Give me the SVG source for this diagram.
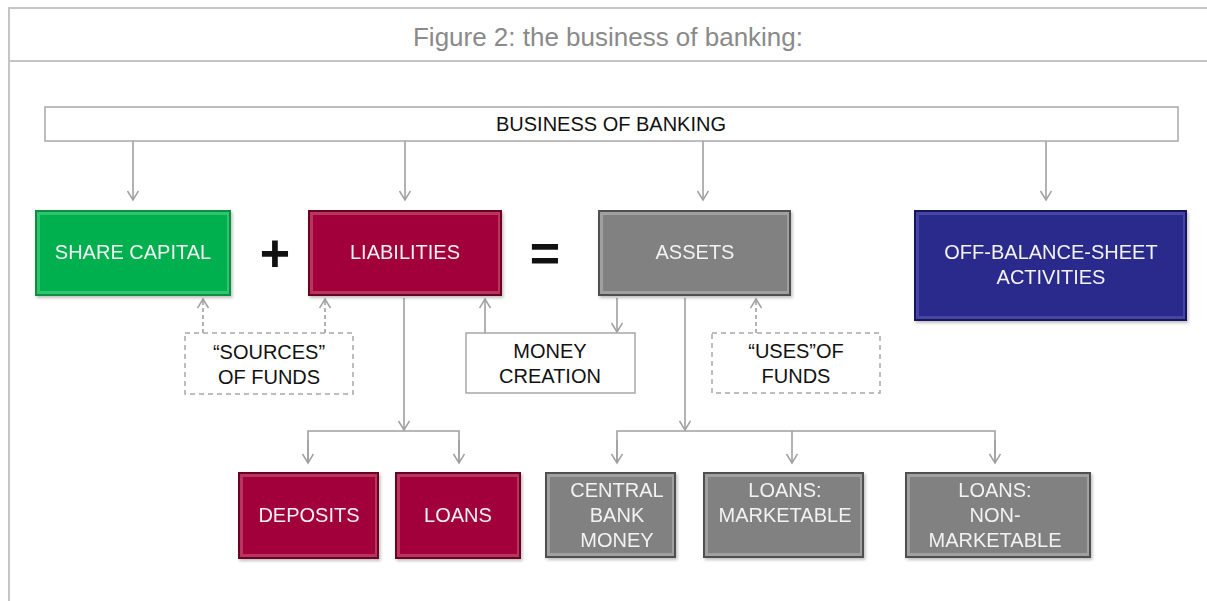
<svg xmlns="http://www.w3.org/2000/svg" width="1207" height="601" viewBox="0 0 1207 601">
  <defs>
    <style>
      text { font-family: "Liberation Sans", Arial, sans-serif; text-anchor: middle; }
      .frame { fill: none; stroke: #c4c4c4; stroke-width: 2; }
      .title { font-size: 26px; fill: #8a8a8a; }
      .lbl { font-size: 20px; fill: #111; }
      .lbl-in { font-size: 20px; fill: #f2f2f2; }
      .op { font-size: 52px; font-weight: bold; fill: #111; }
      .plain { fill: #fff; stroke: #a8a8a8; stroke-width: 1.5; }
      .dash { fill: #fff; stroke: #a8a8a8; stroke-width: 1.5; stroke-dasharray: 5 4; }
      .conn { fill: none; stroke: #a0a0a0; stroke-width: 1.6; }
      .conn-d { fill: none; stroke: #a0a0a0; stroke-width: 1.6; stroke-dasharray: 4 3; }
      .green-o { fill: #0a8f40; } .green-i { fill: #00b050; } .green-h { fill: #2fc470; }
      .red-o { fill: #6c0024; } .red-i { fill: #a2003a; } .red-h { fill: #b8345e; }
      .grey-o { fill: #505050; } .grey-i { fill: #818181; } .grey-h { fill: #a0a0a0; }
      .navy-o { fill: #17175a; } .navy-i { fill: #2b2b8c; } .navy-h { fill: #4444a4; }
    </style>
    <marker id="arr" markerUnits="userSpaceOnUse" markerWidth="14" markerHeight="14" refX="10" refY="6" orient="auto">
      <path d="M1,0.5 L10,6 L1,11.5" fill="none" stroke="#a0a0a0" stroke-width="1.5"/>
    </marker>
    <filter id="sh" x="-5%" y="-5%" width="115%" height="120%">
      <feDropShadow dx="1.5" dy="2" stdDeviation="1.5" flood-color="#000" flood-opacity="0.25"/>
    </filter>
  </defs>

  <!-- page frame and heading strip -->
  <path class="frame" d="M1207,8 H9 V601 M9,61 H1207"/>
  <text class="title" x="608" y="46" textLength="390" lengthAdjust="spacingAndGlyphs">Figure 2: the business of banking:</text>

  <!-- connectors -->
  <g id="connectors">
    <line class="conn" x1="133" y1="141" x2="133" y2="200" marker-end="url(#arr)"/>
    <line class="conn" x1="405" y1="141" x2="405" y2="200" marker-end="url(#arr)"/>
    <line class="conn" x1="703" y1="141" x2="703" y2="200" marker-end="url(#arr)"/>
    <line class="conn" x1="1046" y1="141" x2="1046" y2="200" marker-end="url(#arr)"/>

    <line class="conn-d" x1="203" y1="333" x2="203" y2="299" marker-end="url(#arr)"/>
    <line class="conn-d" x1="325" y1="333" x2="325" y2="299" marker-end="url(#arr)"/>
    <line class="conn-d" x1="756" y1="333" x2="756" y2="299" marker-end="url(#arr)"/>

    <line class="conn" x1="485" y1="333" x2="485" y2="299" marker-end="url(#arr)"/>
    <line class="conn" x1="617" y1="298" x2="617" y2="332" marker-end="url(#arr)"/>

    <line class="conn" x1="404" y1="298" x2="404" y2="430" marker-end="url(#arr)"/>
    <path class="conn" d="M308,463 V431 H459 V463"/>
    <line class="conn" x1="308" y1="440" x2="308" y2="463" marker-end="url(#arr)"/>
    <line class="conn" x1="459" y1="440" x2="459" y2="463" marker-end="url(#arr)"/>

    <line class="conn" x1="685" y1="298" x2="685" y2="430" marker-end="url(#arr)"/>
    <path class="conn" d="M617,463 V431 H995 V463"/>
    <line class="conn" x1="792" y1="431" x2="792" y2="463" marker-end="url(#arr)"/>
    <line class="conn" x1="617" y1="440" x2="617" y2="463" marker-end="url(#arr)"/>
    <line class="conn" x1="995" y1="440" x2="995" y2="463" marker-end="url(#arr)"/>
  </g>

  <g id="business-of-banking">
    <rect class="plain" x="45" y="107" width="1133" height="34"/>
    <text class="lbl" x="611" y="131" font-size="19">BUSINESS OF BANKING</text>
  </g>

  <g id="share-capital" filter="url(#sh)">
    <rect class="green-o" x="35" y="210" width="196" height="86"/>
    <rect class="green-h" x="37" y="212" width="192" height="82"/>
    <rect class="green-i" x="40" y="215" width="187" height="76"/>
    <text class="lbl-in" x="133" y="259">SHARE CAPITAL</text>
  </g>

  <text class="op" x="275" y="271">+</text>

  <g id="liabilities" filter="url(#sh)">
    <rect class="red-o" x="308" y="210" width="194" height="86"/>
    <rect class="red-h" x="310" y="212" width="190" height="82"/>
    <rect class="red-i" x="313" y="215" width="185" height="76"/>
    <text class="lbl-in" x="405" y="259">LIABILITIES</text>
  </g>

  <text class="op" x="545" y="271">=</text>

  <g id="assets" filter="url(#sh)">
    <rect class="grey-o" x="598" y="210" width="193" height="86"/>
    <rect class="grey-h" x="600" y="212" width="189" height="82"/>
    <rect class="grey-i" x="603" y="215" width="184" height="76"/>
    <text class="lbl-in" x="695" y="259">ASSETS</text>
  </g>

  <g id="off-balance-sheet" filter="url(#sh)">
    <rect class="navy-o" x="914" y="210" width="273" height="111"/>
    <rect class="navy-h" x="916" y="212" width="269" height="107"/>
    <rect class="navy-i" x="919" y="215" width="264" height="101"/>
    <text class="lbl-in" x="1051" y="259">OFF-BALANCE-SHEET</text>
    <text class="lbl-in" x="1051" y="284">ACTIVITIES</text>
  </g>

  <g id="sources-of-funds">
    <rect class="dash" x="185" y="333" width="168" height="61"/>
    <text class="lbl" x="269" y="359">“SOURCES”</text>
    <text class="lbl" x="269" y="384">OF FUNDS</text>
  </g>

  <g id="money-creation">
    <rect class="plain" x="466" y="333" width="169" height="60"/>
    <text class="lbl" x="550" y="358">MONEY</text>
    <text class="lbl" x="550" y="383">CREATION</text>
  </g>

  <g id="uses-of-funds">
    <rect class="dash" x="712" y="333" width="168" height="60"/>
    <text class="lbl" x="796" y="358">“USES”OF</text>
    <text class="lbl" x="796" y="383">FUNDS</text>
  </g>

  <g id="deposits" filter="url(#sh)">
    <rect class="red-o" x="238" y="472" width="141" height="87"/>
    <rect class="red-h" x="240" y="474" width="137" height="83"/>
    <rect class="red-i" x="243" y="477" width="132" height="77"/>
    <text class="lbl-in" x="309" y="522">DEPOSITS</text>
  </g>

  <g id="loans" filter="url(#sh)">
    <rect class="red-o" x="395" y="472" width="126" height="87"/>
    <rect class="red-h" x="397" y="474" width="122" height="83"/>
    <rect class="red-i" x="400" y="477" width="117" height="77"/>
    <text class="lbl-in" x="458" y="522">LOANS</text>
  </g>

  <g id="central-bank-money" filter="url(#sh)">
    <rect class="grey-o" x="545" y="472" width="131" height="86"/>
    <rect class="grey-h" x="547" y="474" width="127" height="82"/>
    <rect class="grey-i" x="550" y="477" width="122" height="76"/>
    <text class="lbl-in" x="617" y="497">CENTRAL</text>
    <text class="lbl-in" x="617" y="522">BANK</text>
    <text class="lbl-in" x="617" y="547">MONEY</text>
  </g>

  <g id="loans-marketable" filter="url(#sh)">
    <rect class="grey-o" x="703" y="472" width="161" height="86"/>
    <rect class="grey-h" x="705" y="474" width="157" height="82"/>
    <rect class="grey-i" x="708" y="477" width="152" height="76"/>
    <text class="lbl-in" x="785" y="497">LOANS:</text>
    <text class="lbl-in" x="785" y="522">MARKETABLE</text>
  </g>

  <g id="loans-non-marketable" filter="url(#sh)">
    <rect class="grey-o" x="905" y="472" width="186" height="86"/>
    <rect class="grey-h" x="907" y="474" width="182" height="82"/>
    <rect class="grey-i" x="910" y="477" width="177" height="76"/>
    <text class="lbl-in" x="995" y="497">LOANS:</text>
    <text class="lbl-in" x="995" y="522">NON-</text>
    <text class="lbl-in" x="995" y="547">MARKETABLE</text>
  </g>
</svg>
